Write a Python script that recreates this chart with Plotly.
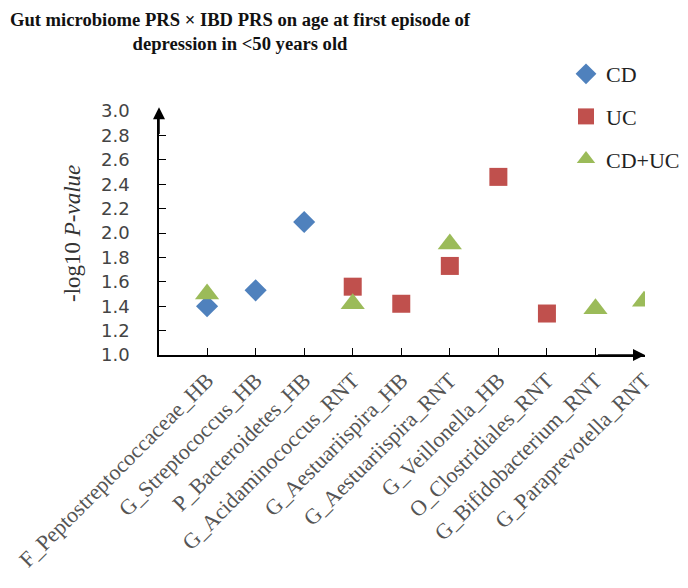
import plotly.graph_objects as go

categories = [
    "F_Peptostreptococcaceae_HB",
    "G_Streptococcus_HB",
    "P_Bacteroidetes_HB",
    "G_Acidaminococcus_RNT",
    "G_Aestuariispira_HB",
    "G_Aestuariispira_RNT",
    "G_Veillonella_HB",
    "O_Clostridiales_RNT",
    "G_Bifidobacterium_RNT",
    "G_Paraprevotella_RNT",
]

cd_x = ["F_Peptostreptococcaceae_HB", "G_Streptococcus_HB", "P_Bacteroidetes_HB"]
cd_y = [1.40, 1.53, 2.09]

uc_x = ["G_Acidaminococcus_RNT", "G_Aestuariispira_HB", "G_Aestuariispira_RNT",
        "G_Veillonella_HB", "O_Clostridiales_RNT"]
uc_y = [1.56, 1.42, 1.73, 2.46, 1.34]

cduc_x = ["F_Peptostreptococcaceae_HB", "G_Acidaminococcus_RNT", "G_Aestuariispira_RNT",
          "G_Bifidobacterium_RNT", "G_Paraprevotella_RNT"]
cduc_y = [1.50, 1.42, 1.91, 1.38, 1.44]

y_ticks = [1.0, 1.2, 1.4, 1.6, 1.8, 2.0, 2.2, 2.4, 2.6, 2.8, 3.0]

SERIF = "Liberation Serif"
W, H = 688, 588
OFF = 8  # page body margin offset

fig = go.Figure()
fig.add_trace(go.Scatter(x=cd_x, y=cd_y, mode="markers", name="CD", legendgroup="a",
                         marker=dict(symbol="diamond", size=17, color="#4F81BD")))
fig.add_trace(go.Scatter(x=uc_x, y=uc_y, mode="markers", name="UC", legendgroup="b",
                         marker=dict(symbol="square", size=18, color="#C0504D")))
fig.add_trace(go.Scatter(x=cduc_x, y=cduc_y, mode="markers", name="CD+UC", legendgroup="c",
                         marker=dict(symbol="triangle-up", size=21, color="#9BBB59")))

left, right, top, bottom = 159 - OFF, 645 - OFF, 111 - OFF, 355 - OFF
pw, ph = right - left, bottom - top

fig.update_layout(
    template="none",
    width=W, height=H,
    margin=dict(l=left, r=W - right, t=top, b=H - bottom, autoexpand=False),
    paper_bgcolor="white", plot_bgcolor="white",
    title=dict(text="Gut microbiome PRS × IBD PRS on age at first episode of<br>depression in <50 years old",
               font=dict(family=SERIF, size=18.6, color="#111111", weight="bold"),
               x=232/W, xanchor="center", xref="container",
               y=0.97, yanchor="top", yref="container"),
    showlegend=True,
    legend=dict(x=558/W, xref="container", xanchor="left",
                y=1-45/H, yref="container", yanchor="top",
                font=dict(family=SERIF, size=22, color="#222222"),
                tracegroupgap=11, bgcolor="rgba(0,0,0,0)", borderwidth=0),
    xaxis=dict(type="category", categoryorder="array", categoryarray=categories,
               range=[-0.99, 9.02], showgrid=False, zeroline=False,
               showline=True, linecolor="black", linewidth=1.5,
               ticks="inside", ticklen=7, tickcolor="black", tickwidth=1,
               tickangle=-45, ticklabelstandoff=2,
               tickfont=dict(family=SERIF, size=22, color="#555555"),
               automargin=False),
    yaxis=dict(range=[1.0, 3.0], tickvals=y_ticks, ticktext=[f"{v:.1f}" for v in y_ticks],
               showgrid=False, zeroline=False,
               showline=True, linecolor="black", linewidth=1.5,
               ticks="inside", ticklen=7, tickcolor="black", tickwidth=1,
               ticklabelstandoff=24,
               tickfont=dict(family="DejaVu Sans", size=18, color="#444444"),
               automargin=False),
)

fig.add_annotation(text="-log10 <i>P-value</i>", xref="paper", yref="paper",
                   x=(72 - 159) / pw, y=(355 - 234) / ph, xanchor="center", yanchor="middle",
                   showarrow=False, textangle=-90,
                   font=dict(family=SERIF, size=23, color="#333333"))

# axis arrowheads
fig.add_annotation(text="", xref="x domain", yref="y domain", axref="x domain", ayref="y domain",
                   x=0, y=1.015, ax=0, ay=0.9, showarrow=True, arrowhead=2,
                   arrowsize=1.6, arrowwidth=1.5, arrowcolor="black")
fig.add_annotation(text="", xref="x domain", yref="y domain", axref="x domain", ayref="y domain",
                   x=1.0, y=0, ax=0.9, ay=0, showarrow=True, arrowhead=2,
                   arrowsize=1.6, arrowwidth=1.5, arrowcolor="black")

fig.write_html("out.html")
